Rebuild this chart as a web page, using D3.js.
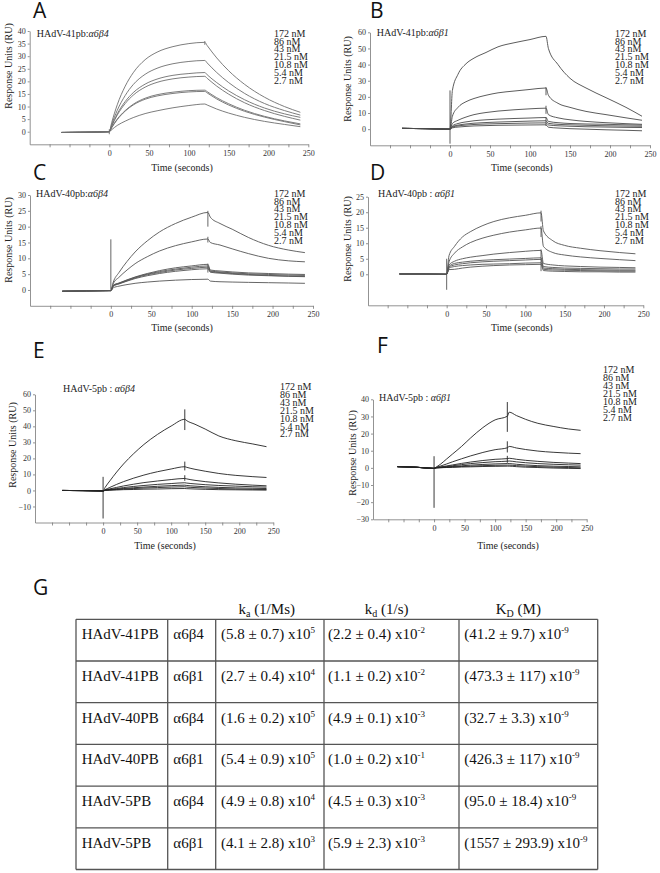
<!DOCTYPE html>
<html><head><meta charset="utf-8">
<script src="https://cdn.jsdelivr.net/npm/d3@7"></script>
<style>body{margin:0;background:#fff}svg{display:block}</style>
</head><body>
<svg id="fig" width="660" height="873"></svg>
<script>
// ---------- DATA ----------
const time = [-60,-30,0,3,10,20,30,45,60,80,100,120,123,135,150,170,195,220,240];
const concentrations = ["172 nM","86 nM","43 nM","21.5 nM","10.8 nM","5.4 nM","2.7 nM"];
const xTickValues = [-75,-50,-25,0,25,50,75,100,125,150,175,200,225,250];
const xTickLabels = [0,50,100,150,200,250];

const seriesA = [
  [-0.3,-0.2,0, 3.6,10.7,18.1,23.4,28.6,31.6,33.8,35.0,35.5, 34.2,29.3,24.2,18.8,13.7,10.0,7.7],
  [-0.3,-0.2,0, 2.9,8.5,14.4,18.7,22.8,25.2,27.0,27.9,28.3, 27.3,23.5,19.5,15.2,11.2,8.4,6.6],
  [-0.3,-0.2,0, 2.4,7.1,12.0,15.5,18.9,20.9,22.4,23.1,23.5, 22.6,19.5,16.2,12.7,9.4,7.1,5.7],
  [-0.3,-0.2,0, 2.2,6.6,11.2,14.5,17.7,19.6,21.0,21.7,22.0, 21.2,18.1,14.9,11.5,8.4,6.1,4.6],
  [-0.3,-0.2,0, 1.7,5.0,8.4,10.9,13.3,14.7,15.7,16.3,16.5, 15.9,13.5,11.1,8.5,6.1,4.3,3.1],
  [-0.3,-0.2,0, 1.6,4.8,8.2,10.6,12.9,14.2,15.2,15.8,16.0, 15.4,13.0,10.6,8.1,5.8,4.0,2.7],
  [-0.3,-0.2,0, 0.8,2.5,4.2,5.6,7.2,8.3,9.5,10.4,11.0, 10.6,9.0,7.4,5.7,4.1,2.9,2.0]
];
const seriesB = [
  [0.5,0.3,0, 24,34,40.5,44,47.5,51,53.5,55.5,57.5, 50,40,31.5,25.5,19.5,13.5,8],
  [0.5,0.3,0, 8,13.5,17,19,21,22.5,23.6,24.6,25.5, 21,16,13.5,11,9,7,5.5],
  [0.5,0.3,0, 3.5,5.5,7.5,9,10.3,11.2,12,12.6,13, 9,7,5.8,4.8,4,3.4,3],
  [0.5,0.3,0, 2,3.5,4.5,5.2,5.8,6.2,6.6,6.9,7.2, 4.8,4,3.5,3.2,3,2.7,2.5],
  [0.5,0.3,0, 1.6,2.5,3.2,3.7,4.1,4.4,4.7,5.0,5.2, 3.6,3,2.7,2.4,2.1,1.9,1.8],
  [0.5,0.3,0, 1.2,2,2.5,2.9,3.2,3.4,3.6,3.8,3.9, 2.6,2.1,1.8,1.5,1.3,1.1,1.0],
  [0.5,0.3,0, 0.8,1.3,1.7,2,2.2,2.4,2.5,2.6,2.7, 1.2,0.7,0.3,0,-0.4,-0.7,-1.0]
];
const seriesC = [
  [-0.4,-0.3,-0.2, 2.5,5.5,9,12,15.5,18.3,21,23,24.5, 23,21,19.2,16.6,14.1,12.6,11.8],
  [-0.4,-0.3,-0.2, 2,4,6.3,8.3,10.5,12.3,14,15.2,16.1, 15,14.2,13,11.5,10,9.2,8.9],
  [-0.4,-0.3,-0.2, 1.5,2.2,3.2,4.1,5.2,6.1,7,7.6,8.1, 6.3,6,5.7,5.4,5.2,5.0,4.9],
  [-0.4,-0.3,-0.2, 1.4,2.1,3.1,4.0,5.0,5.8,6.6,7.2,7.6, 6.0,5.7,5.4,5.1,4.9,4.7,4.6],
  [-0.4,-0.3,-0.2, 1.3,2.0,2.9,3.8,4.8,5.5,6.3,6.8,7.2, 5.8,5.5,5.2,4.9,4.6,4.4,4.3],
  [-0.4,-0.3,-0.2, 1.2,1.9,2.8,3.6,4.5,5.2,5.9,6.4,6.7, 5.6,5.3,5.0,4.7,4.5,4.3,4.2],
  [-0.4,-0.3,-0.2, 0.7,1.2,1.7,2.1,2.5,2.8,3.1,3.3,3.4, 2.8,2.6,2.5,2.4,2.3,2.2,2.1]
];
const seriesD = [
  [0.1,0.1,0, 6,9,12,13.7,15.6,17,18.2,19,19.8, 14,10.8,9.3,8.4,7.6,7,6.6],
  [0.1,0.1,0, 4,6.8,8.8,10.2,11.6,12.6,13.6,14.3,14.9, 9,7,6.2,5.6,5.1,4.7,4.4],
  [0.1,0.1,0, 3,4.2,5,5.5,6,6.5,7,7.4,7.7, 3.5,3,2.7,2.5,2.3,2.2,2.1],
  [0.1,0.1,0, 2.5,3.5,3.9,4.2,4.5,4.7,4.9,5.1,5.3, 2.5,2.2,2,1.9,1.8,1.7,1.7],
  [0.1,0.1,0, 2.3,3.0,3.4,3.7,4.0,4.2,4.4,4.6,4.8, 2.0,1.8,1.6,1.5,1.4,1.3,1.3],
  [0.1,0.1,0, 2.0,2.5,2.8,3.0,3.2,3.3,3.4,3.6,3.7, 1.6,1.4,1.3,1.2,1.1,1.0,1.0],
  [0.1,0.1,0, 1.5,1.6,2.0,2.3,2.6,2.8,3.0,3.1,3.2, 1.2,1.0,0.9,0.8,0.8,0.7,0.7]
];
const seriesE = [
  [0,-0.1,-0.3, 1.9,6,11.5,16.5,23,28.7,35,40.2,44.4, 43.5,41.3,38.3,34,31,29,27.3],
  [0,-0.1,-0.3, 0.5,1.9,3.8,5.5,7.7,9.6,11.7,13.4,14.8, 14.4,13.2,12,10.6,9.4,8.6,8.1],
  [0,-0.1,-0.3, 0.3,1,1.9,2.8,3.9,4.9,5.9,6.8,7.5, 7.2,6.3,5.5,4.7,3.9,3.3,2.9],
  [0,-0.1,-0.3, 0.2,0.6,1.2,1.8,2.5,3.1,3.8,4.3,4.8, 4.6,4.1,3.6,3.1,2.7,2.3,2.1],
  [0,-0.1,-0.3, 0.1,0.4,0.8,1.2,1.7,2.1,2.6,3.0,3.3, 3.1,2.7,2.3,1.9,1.6,1.4,1.2],
  [0,-0.1,-0.3, 0.1,0.3,0.6,0.9,1.2,1.5,1.8,2.1,2.3, 2.1,1.8,1.5,1.2,0.9,0.7,0.6],
  [0,-0.1,-0.3, 0,0.2,0.3,0.5,0.6,0.8,0.9,1.1,1.2, 1.1,0.9,0.7,0.5,0.4,0.3,0.2]
];
const seriesF = [
  [0.7,0.4,-0.3, 0.3,2,5,8,12.5,17.5,23.5,28,30.1, 32.5,30.5,28.3,26,24.2,22.7,21.9],
  [0.7,0.4,-0.3, 0.2,1,2.2,3.5,5.3,7,9,10.6,11.7, 12.5,11.6,10.7,9.8,9.1,8.6,8.3],
  [0.7,0.4,-0.3, 0.1,0.5,1.1,1.7,2.6,3.4,4.3,5.0,5.4, 5.6,5.0,4.4,3.8,3.2,2.8,2.5],
  [0.7,0.4,-0.3, 0.1,0.4,0.8,1.2,1.9,2.5,3.1,3.6,3.9, 4.0,3.5,3.0,2.5,2.1,1.8,1.6],
  [0.7,0.4,-0.3, 0,0.2,0.5,0.8,1.2,1.6,2.0,2.3,2.5, 2.5,2.1,1.7,1.3,1.0,0.8,0.6],
  [0.7,0.4,-0.3, 0,0.1,0.3,0.5,0.8,1.0,1.3,1.5,1.6, 1.6,1.3,1.0,0.7,0.4,0.2,0],
  [0.7,0.4,-0.3, 0,0.1,0.2,0.3,0.5,0.6,0.8,0.9,1.0, 1.0,0.7,0.4,0.2,-0.1,-0.3,-0.4]
];
// injection artefacts: [time, low, high]
const spikesA = [[0,-1,1],[120,34.5,36]];
const spikesB = [[0,-9,24],[120,21,26],[120,9.5,14.5],[120,2,7.5]];
const spikesC = [[0,0,16],[120,20,25],[120,15,16.8],[120,5.5,8.3]];
const spikesD = [[0,-5,5],[120,17,20.5],[120,12,15.5],[120,1,8]];
const spikesE = [[0,-17.5,8.5],[120,37.7,50.6],[120,12.5,18],[120,6,9.5]];
const spikesF = [[0,-23.3,6.8],[120,21,38.4],[120,9,15.5],[120,3,7]];

const yTicksA = [0,5,10,15,20,25,30,35,40];
const yTicksB = [0,10,20,30,40,50,60];
const yTicksC = [0,5,10,15,20,25,30];
const yTicksD = [0,5,10,15,20,25];
const yTicksE = [-10,0,10,20,30,40,50,60];
const yTicksF = [-30,-20,-10,0,10,20,30,40];

const titlesLeft = ["HAdV-41pb:","HAdV-41pb:","HAdV-40pb:","HAdV-40pb : ","HAdV-5pb : ","HAdV-5pb : "];
const titlesRight = ["α6β4","α6β1","α6β4","α6β1","α6β4","α6β1"];

// table
const tableVirus = ["HAdV-41PB","HAdV-41PB","HAdV-40PB","HAdV-40PB","HAdV-5PB","HAdV-5PB"];
const tableIntegrin = ["α6β4","α6β1","α6β4","α6β1","α6β4","α6β1"];
const kaText = ["(5.8 ± 0.7) x10","(2.7 ± 0.4) x10","(1.6 ± 0.2) x10","(5.4 ± 0.9) x10","(4.9 ± 0.8) x10","(4.1 ± 2.8) x10"];
const kaExp = ["5","4","5","5","4","3"];
const kdText = ["(2.2 ± 0.4) x10","(1.1 ± 0.2) x10","(4.9 ± 0.1) x10","(1.0 ± 0.2) x10","(4.5 ± 0.3) x10","(5.9 ± 2.3) x10"];
const kdExp = ["-2","-2","-3","-1","-3","-3"];
const KDText = ["(41.2 ± 9.7) x10","(473.3 ± 117) x10","(32.7 ± 3.3) x10","(426.3 ± 117) x10","(95.0 ± 18.4) x10","(1557 ± 293.9) x10"];
const KDExp = ["-9","-9","-9","-9","-9","-9"];

// ---------- DRAW ----------
const svg = d3.select("#fig");
const SERIF = "'Liberation Serif','Times New Roman',serif";
const SANS = "'Open Sans','Noto Sans',sans-serif";

const panels = [
 {letter:"A",series:seriesA,spikes:spikesA,yTicks:yTicksA,yDom:[-5,40],xR:[29.7,308.3],yR:[144.3,31],
  L:[33,18],T:[36.7,36.6],G:[274,36.6],YL:[8,66],XL:[182,170.5],col:"#6e6e6e"},
 {letter:"B",series:seriesB,spikes:spikesB,yTicks:yTicksB,yDom:[-10,60],xR:[370,650],yR:[145.3,32.3],
  L:[370,18],T:[376.7,36.3],G:[615,36.6],YL:[347,79],XL:[521.7,170.5],col:"#4a4a4a"},
 {letter:"C",series:seriesC,spikes:spikesC,yTicks:yTicksC,yDom:[-5,30],xR:[30,313],yR:[305.8,195],
  L:[33,180],T:[36,196.6],G:[274,196.6],YL:[8,240],XL:[182,331],col:"#555"},
 {letter:"D",series:seriesD,spikes:spikesD,yTicks:yTicksD,yDom:[-10,25],xR:[368,643.3],yR:[305.3,196.7],
  L:[370,180],T:[378,196.6],G:[615,196.6],YL:[347,239],XL:[521.7,331],col:"#555"},
 {letter:"E",series:seriesE,spikes:spikesE,yTicks:yTicksE,yDom:[-20,60],xR:[35,273.3],yR:[522.5,394.3],
  L:[33,358],T:[63,392.3],G:[280,390],YL:[12,445],XL:[165,549],col:"#222"},
 {letter:"F",series:seriesF,spikes:spikesF,yTicks:yTicksF,yDom:[-30,40],xR:[373,586.7],yR:[519.3,399.3],
  L:[377,353],T:[379,401],G:[603,373.3],YL:[352,453],XL:[508,549],col:"#222"}
];

panels.forEach((p, pi) => {
  const g = svg.append("g");
  const x = d3.scaleLinear().domain([-100,250]).range(p.xR);
  const y = d3.scaleLinear().domain(p.yDom).range(p.yR);

  // letter
  g.append("text").attr("x",p.L[0]).attr("y",p.L[1]).text(p.letter)
    .attr("font-family",SANS).attr("font-size",21).attr("fill","#111");

  // axes
  const xa = g.append("g").attr("transform",`translate(0,${p.yR[0]})`)
    .call(d3.axisBottom(x).tickValues(xTickValues).tickSize(3).tickSizeOuter(0).tickPadding(3)
      .tickFormat(d => xTickLabels.includes(d) ? d : ""));
  const ya = g.append("g").attr("transform",`translate(${p.xR[0]},0)`)
    .call(d3.axisLeft(y).tickValues(p.yTicks).tickSize(2).tickSizeOuter(0).tickPadding(2));
  [xa, ya].forEach(a => {
    a.selectAll("path,line").attr("stroke","#777").attr("stroke-width",0.8);
    a.selectAll("text").attr("font-family",SERIF).attr("font-size",8).attr("fill","#333");
  });

  // curves
  const line = d3.line().x((d,i) => x(time[i])).y(d => y(d)).curve(d3.curveMonotoneX);
  g.selectAll("path.curve").data(p.series).join("path").attr("class","curve")
    .attr("d", line).attr("fill","none").attr("stroke",p.col).attr("stroke-width",0.9);
  g.selectAll("line.spike").data(p.spikes).join("line").attr("class","spike")
    .attr("x1", d => x(d[0])).attr("x2", d => x(d[0]))
    .attr("y1", d => y(d[1])).attr("y2", d => y(d[2]))
    .attr("stroke",p.col).attr("stroke-width",0.9);

  // title
  const tt = g.append("text").attr("x",p.T[0]).attr("y",p.T[1])
    .attr("font-family",SERIF).attr("font-size",10).attr("fill","#222");
  tt.append("tspan").text(titlesLeft[pi]);
  tt.append("tspan").attr("font-style","italic").text(titlesRight[pi]);

  // legend
  g.selectAll("text.leg").data(concentrations).join("text").attr("class","leg")
    .attr("x",p.G[0]).attr("y",(d,i) => p.G[1] + i*7.9)
    .attr("font-family",SERIF).attr("font-size",10).attr("fill","#222").text(d => d);

  // axis titles
  g.append("text").attr("transform",`translate(${p.YL[0]},${p.YL[1]}) rotate(-90)`)
    .attr("text-anchor","middle").attr("dominant-baseline","central")
    .attr("font-family",SERIF).attr("font-size",10).attr("fill","#222").text("Response Units (RU)");
  g.append("text").attr("x",p.XL[0]).attr("y",p.XL[1]).attr("text-anchor","middle")
    .attr("font-family",SERIF).attr("font-size",10).attr("fill","#222").text("Time (seconds)");
});

// ---------- TABLE ----------
const colX = [76,167.7,215.7,324,459,597.7];
const rowY = d3.range(7).map(i => 619.3 + i*41.7);
const tg = svg.append("g");
tg.append("text").attr("x",33).attr("y",595).text("G")
  .attr("font-family",SANS).attr("font-size",21).attr("fill","#111");

const headers = [["k","a"," (1/Ms)"],["k","d"," (1/s)"],["K","D"," (M)"]];
const headerX = [266.7,386.7,518.3];
headers.forEach((h,i) => {
  const t = tg.append("text").attr("x",headerX[i]).attr("y",614).attr("text-anchor","middle")
    .attr("font-family",SERIF).attr("font-size",15).attr("fill","#111");
  t.append("tspan").text(h[0]);
  t.append("tspan").attr("font-size",10).attr("dy",3).text(h[1]);
  t.append("tspan").attr("dy",-3).text(h[2]);
});

tg.selectAll("line.v").data(colX).join("line").attr("class","v")
  .attr("x1",d=>d).attr("x2",d=>d).attr("y1",rowY[0]).attr("y2",rowY[6])
  .attr("stroke","#555").attr("stroke-width",1.3);
tg.selectAll("line.h").data(rowY).join("line").attr("class","h")
  .attr("x1",colX[0]).attr("x2",colX[5]).attr("y1",d=>d).attr("y2",d=>d)
  .attr("stroke","#555").attr("stroke-width",1.3);

const cellTextX = [81.7,173.3,221,328,464.3];
tableVirus.forEach((v,r) => {
  const by = rowY[r] + 20;
  const mk = (xx) => tg.append("text").attr("x",xx).attr("y",by)
    .attr("font-family",SERIF).attr("font-size",15).attr("fill","#111");
  mk(cellTextX[0]).text(v);
  mk(cellTextX[1]).text(tableIntegrin[r]);
  [[kaText,kaExp],[kdText,kdExp],[KDText,KDExp]].forEach((pair,c) => {
    const t = mk(cellTextX[2+c]);
    t.append("tspan").text(pair[0][r]);
    t.append("tspan").attr("font-size",9).attr("dy",-6).text(pair[1][r]);
  });
});
</script>
</body></html>
